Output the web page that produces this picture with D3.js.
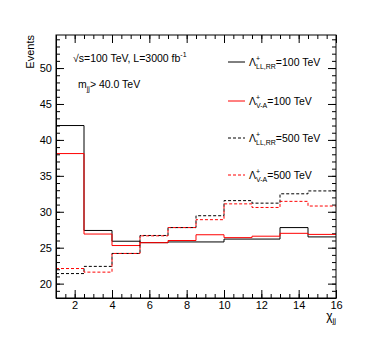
<!DOCTYPE html>
<html>
<head>
<meta charset="utf-8">
<script src="https://cdn.jsdelivr.net/npm/d3@7"></script>
<style>
  body { margin: 0; background: #fff; }
  svg { display: block; font-family: "Liberation Sans", Arial, sans-serif; }
</style>
</head>
<body>
<svg id="chart" width="374" height="351"></svg>
<script>
// bin edges of chi_jj and the four histograms (events per bin)
var edges = [1, 2.5, 4, 5.5, 7, 8.5, 10, 11.5, 13, 14.5, 16];
var llrr100 = [42.0, 27.4, 25.9, 25.7, 25.8, 25.8, 26.2, 26.2, 27.8, 26.5];
var va100 = [38.1, 26.9, 25.3, 25.7, 26.0, 26.8, 26.4, 26.6, 27.0, 26.85];
var llrr500 = [21.4, 22.4, 24.2, 26.7, 27.8, 29.45, 31.55, 31.2, 32.5, 32.9];
var va500 = [22.1, 21.6, 24.2, 26.65, 27.8, 28.9, 31.1, 30.6, 31.45, 30.8];

var xTicks = [2, 4, 6, 8, 10, 12, 14, 16];
var yTicks = [20, 25, 30, 35, 40, 45, 50];

var series = [
  { values: llrr100, color: "#000", dash: null, sub: "LL,RR", label: "=100 TeV" },
  { values: va100, color: "#ff0000", dash: null, sub: "V-A", label: "=100 TeV" },
  { values: llrr500, color: "#000", dash: "3,2", sub: "LL,RR", label: "=500 TeV" },
  { values: va500, color: "#ff0000", dash: "3,2", sub: "V-A", label: "=500 TeV" }
];

var svg = d3.select("#chart");
var padL = 56, padR = 336, padT = 35, padB = 298;

var x = d3.scaleLinear().domain([1, 16]).range([padL, padR]);
var y = d3.scaleLinear().domain([18, 54.6]).range([padB, padT]);

var minorX = d3.range(1, 16.01, 0.5);
var minorY = d3.range(18, 55, 1);

// minor ticks on all four sides
function noLabels(g) { g.selectAll("text").remove(); g.select(".domain").remove(); }
svg.append("g").attr("transform", "translate(0," + padB + ")")
  .call(d3.axisBottom(x).tickValues(minorX).tickSize(-4)).call(noLabels);
svg.append("g").attr("transform", "translate(0," + padT + ")")
  .call(d3.axisTop(x).tickValues(minorX).tickSize(-4)).call(noLabels);
svg.append("g").attr("transform", "translate(" + padL + ",0)")
  .call(d3.axisLeft(y).tickValues(minorY).tickSize(-4)).call(noLabels);
svg.append("g").attr("transform", "translate(" + padR + ",0)")
  .call(d3.axisRight(y).tickValues(minorY).tickSize(-4)).call(noLabels);

// major ticks without labels on top / right
svg.append("g").attr("transform", "translate(0," + padT + ")")
  .call(d3.axisTop(x).tickValues(xTicks).tickSize(-8)).call(noLabels);
svg.append("g").attr("transform", "translate(" + padR + ",0)")
  .call(d3.axisRight(y).tickValues(yTicks).tickSize(-8)).call(noLabels);

// histograms
var line = d3.line()
  .x(function(d) { return x(d[0]); })
  .y(function(d) { return y(d[1]); })
  .curve(d3.curveStepAfter);

series.forEach(function(s) {
  var pts = s.values.map(function(v, i) { return [edges[i], v]; });
  pts.push([edges[edges.length - 1], s.values[s.values.length - 1]]);
  svg.append("path")
    .attr("d", line(pts))
    .attr("fill", "none")
    .attr("stroke", s.color)
    .attr("stroke-width", 1)
    .attr("stroke-dasharray", s.dash);
});

// labelled axes
var xAxis = svg.append("g").attr("transform", "translate(0," + padB + ")")
  .call(d3.axisBottom(x).tickValues(xTicks).tickSize(-8).tickPadding(3).tickSizeOuter(0));
var yAxis = svg.append("g").attr("transform", "translate(" + padL + ",0)")
  .call(d3.axisLeft(y).tickValues(yTicks).tickSize(-8).tickPadding(4).tickSizeOuter(0));
[xAxis, yAxis].forEach(function(g) {
  g.selectAll("text").attr("font-size", 11).attr("fill", "#000").attr("font-family", "Liberation Sans, Arial, sans-serif");
  g.selectAll("line").attr("stroke", "#000");
});

// frame
svg.append("rect")
  .attr("x", padL).attr("y", padT)
  .attr("width", padR - padL).attr("height", padB - padT)
  .attr("fill", "none").attr("stroke", "#000").attr("stroke-width", 1);

// axis titles
svg.append("text")
  .attr("transform", "translate(34," + padT + ") rotate(-90)")
  .attr("text-anchor", "end")
  .attr("font-size", 11)
  .text("Events");

var xt = svg.append("text").attr("x", 336).attr("y", 320).attr("text-anchor", "end").attr("font-size", 12);
xt.append("tspan").text("χ");
xt.append("tspan").attr("dy", 3).attr("font-size", 8).text("jj");

// annotations
var t1 = svg.append("text").attr("x", 73).attr("y", 62).attr("font-size", 10.5);
t1.append("tspan").text("√s=100 TeV, L=3000 fb");
t1.append("tspan").attr("dy", -5).attr("font-size", 7).text("-1");

var t2 = svg.append("text").attr("x", 78).attr("y", 88).attr("font-size", 10.5);
t2.append("tspan").text("m");
t2.append("tspan").attr("dy", 3).attr("font-size", 7).text("jj");
t2.append("tspan").attr("dy", -3).text("> 40.0 TeV");

// legend
var legY = [62, 101, 138, 175];
series.forEach(function(s, i) {
  var ly = legY[i];
  svg.append("line")
    .attr("x1", 228).attr("x2", 245).attr("y1", ly).attr("y2", ly)
    .attr("stroke", s.color).attr("stroke-width", 1)
    .attr("stroke-dasharray", s.dash);
  var t = svg.append("text").attr("x", 249).attr("y", ly + 4).attr("font-size", 10.5);
  t.append("tspan").text("Λ");
  var sx = 256;
  t.append("tspan").attr("x", sx).attr("dy", -5).attr("font-size", 7).text("+");
  t.append("tspan").attr("x", sx).attr("dy", 8).attr("font-size", 7).text(s.sub);
  t.append("tspan").attr("dy", -3).text(s.label);
});
</script>
</body>
</html>
